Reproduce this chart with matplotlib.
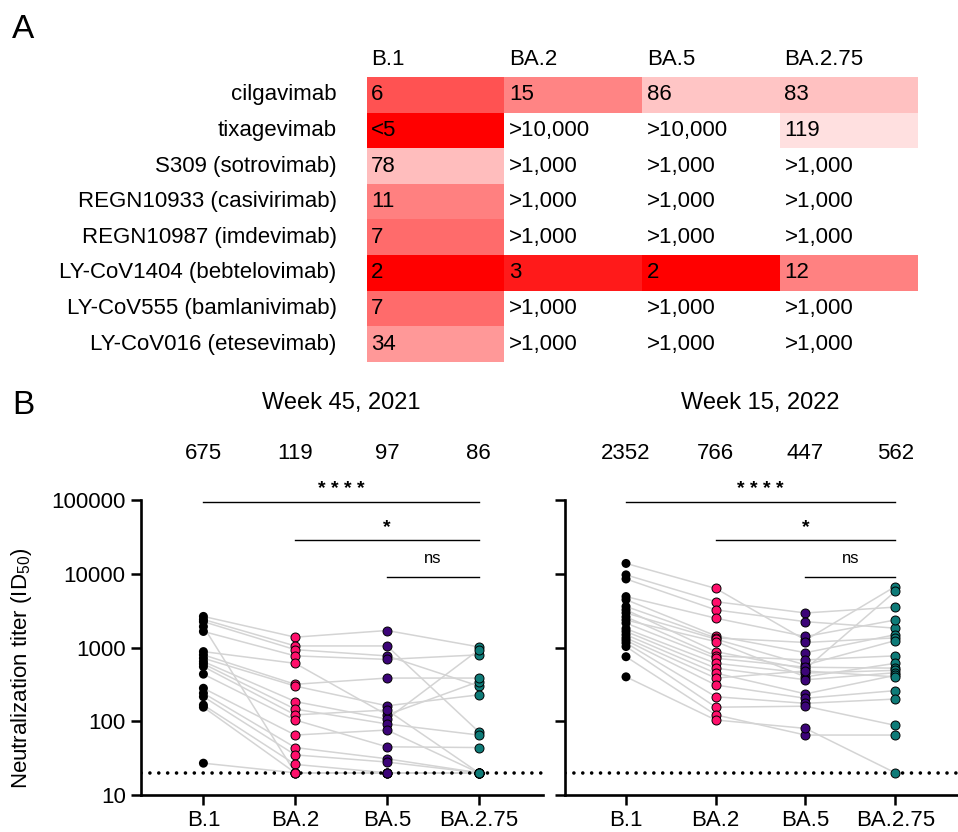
import numpy as np
import matplotlib
matplotlib.use("Agg")
import matplotlib.pyplot as plt
from matplotlib.colors import LinearSegmentedColormap, LogNorm

plt.rcParams['font.family'] = ['Liberation Sans', 'DejaVu Sans']
plt.rcParams['mathtext.fontset'] = 'custom'
plt.rcParams['mathtext.rm'] = 'Liberation Sans'
plt.rcParams['mathtext.it'] = 'Liberation Sans:italic'

# ---- Panel A: mAb IC50 table ----
variants = ["B.1", "BA.2", "BA.5", "BA.2.75"]
antibodies = ["cilgavimab", "tixagevimab", "S309 (sotrovimab)",
              "REGN10933 (casivirimab)", "REGN10987 (imdevimab)",
              "LY-CoV1404 (bebtelovimab)", "LY-CoV555 (bamlanivimab)",
              "LY-CoV016 (etesevimab)"]
ic50_text = [
    ["6", "15", "86", "83"],
    ["<5", ">10,000", ">10,000", "119"],
    ["78", ">1,000", ">1,000", ">1,000"],
    ["11", ">1,000", ">1,000", ">1,000"],
    ["7", ">1,000", ">1,000", ">1,000"],
    ["2", "3", "2", "12"],
    ["7", ">1,000", ">1,000", ">1,000"],
    ["34", ">1,000", ">1,000", ">1,000"],
]
nan = np.nan
# numeric values for colouring ("<5" shown at the floor, ">x" left blank)
ic50_num = [
    [6, 15, 86, 83],
    [2, nan, nan, 119],
    [78, nan, nan, nan],
    [11, nan, nan, nan],
    [7, nan, nan, nan],
    [2, 3, 2, 12],
    [7, nan, nan, nan],
    [34, nan, nan, nan],
]

# ---- Panel B: neutralization titers (one row per donor: B.1, BA.2, BA.5, BA.2.75) ----
titers_2021 = [
    [2640, 1380, 1700, 1020],
    [2400, 1050, 1050, 72],
    [2240, 935, 770, 300],
    [1920, 20, 20, 20],
    [1650, 770, 690, 795],
    [880, 610, 122, 345],
    [795, 317, 385, 385],
    [715, 300, 162, 228],
    [645, 185, 107, 930],
    [600, 146, 92, 65],
    [550, 122, 142, 20],
    [435, 104, 45, 44],
    [280, 65, 76, 20],
    [240, 44, 31, 20],
    [215, 35, 28, 20],
    [166, 26, 20, 20],
    [155, 20, 20, 20],
    [27, 20, 20, 20],
]
titers_2022 = [
    [13800, 6330, 1260, 6700],
    [9660, 4180, 2940, 3530],
    [8500, 3240, 2240, 1830],
    [4900, 2500, 1410, 2360],
    [4450, 1440, 850, 1490],
    [3600, 1350, 1170, 1350],
    [3240, 880, 510, 5750],
    [2940, 1300, 580, 1240],
    [2600, 770, 680, 770],
    [2360, 1200, 400, 610],
    [2140, 715, 540, 525],
    [1800, 610, 450, 490],
    [1650, 525, 365, 455],
    [1490, 450, 235, 420],
    [1350, 385, 480, 400],
    [1250, 310, 205, 260],
    [1150, 215, 175, 200],
    [1030, 155, 160, 88],
    [750, 122, 65, 65],
    [400, 104, 80, 20],
]
gmt_2021 = ["675", "119", "97", "86"]
gmt_2022 = ["2352", "766", "447", "562"]
titles = ["Week 45, 2021", "Week 15, 2022"]
lod = 20
# comparisons: (from, to, label, y)
comparisons = [(0, 3, "* * * *", 95000), (1, 3, "*", 29000), (2, 3, "ns", 9100)]
point_colors = ["#000000", "#FF0F6B", "#3C0478", "#0E7B78"]

W, H = 958, 832
fig = plt.figure(figsize=(W / 100, H / 100), dpi=100)


def px_axes(x0, y0, x1, y1):
    return fig.add_axes([x0 / W, 1 - y1 / H, (x1 - x0) / W, (y1 - y0) / H])


# ---------- A ----------
axa = px_axes(367, 77, 918, 362)
anchors = [(0.0, 0), (0.094, 26), (0.254, 82), (0.29, 107), (0.395, 128),
           (0.467, 133), (0.656, 153), (0.85, 189), (0.946, 224), (1.0, 236)]
cmap = LinearSegmentedColormap.from_list(
    "reds", [(p, (1, g / 255, g / 255)) for p, g in anchors])
cmap.set_bad("white")
arr = np.ma.masked_invalid(np.array(ic50_num, dtype=float))
axa.imshow(arr, cmap=cmap, norm=LogNorm(vmin=2, vmax=150), aspect="auto",
           interpolation="nearest")
axa.set_xlim(-0.5, 3.5)
axa.set_ylim(7.5, -0.5)
axa.axis("off")
for i, ab in enumerate(antibodies):
    axa.text(-0.72, i, ab, ha="right", va="center", fontsize=16)
    for j in range(len(variants)):
        axa.text(j - 0.47, i, ic50_text[i][j], ha="left", va="center", fontsize=16)
for j, v in enumerate(variants):
    axa.text(j - 0.47, -0.98, v, ha="left", va="center", fontsize=16)

fig.text(12 / W, 1 - 30 / H, "A", fontsize=24, ha="left", va="center")
fig.text(12 / W, 1 - 405 / H, "B", fontsize=24, ha="left", va="center")

# ---------- B ----------
boxes = [(141, 500, 543, 795), (565, 500, 958, 795)]
datasets = [titers_2021, titers_2022]
gmts = [gmt_2021, gmt_2022]
xs = np.arange(len(variants))
for k in range(2):
    ax = px_axes(*boxes[k])
    data = np.array(datasets[k], dtype=float)
    for row in data:
        ax.plot(xs, row, color="#D4D4D4", lw=1.1, zorder=1)
    for j in range(len(variants)):
        ax.scatter(np.full(len(data), xs[j]), data[:, j], s=42,
                   color=point_colors[j], edgecolors="black" if j else "none",
                   linewidths=0.7, zorder=3)
    ax.axhline(lod, color="black", lw=2.6, linestyle=(0, (0.01, 2.45)),
               dash_capstyle="round", zorder=2)
    ax.set_yscale("log")
    ax.set_ylim(10, 100000)
    ax.set_xlim(-0.68, 3.7)
    ax.set_xticks(xs)
    ax.set_xticklabels(variants, fontsize=16)
    ax.set_yticks([10, 100, 1000, 10000, 100000])
    ax.minorticks_off()
    if k == 0:
        ax.set_yticklabels(["10", "100", "1000", "10000", "100000"], fontsize=16)
    else:
        ax.set_yticklabels([])
    ax.tick_params(axis="both", direction="out", length=7, width=1.8, pad=4)
    for s in ["top", "right"]:
        ax.spines[s].set_visible(False)
    for s in ["left", "bottom"]:
        ax.spines[s].set_linewidth(1.9)
    for a, b, lab, y in comparisons:
        ax.plot([a, b], [y, y], color="black", lw=1.0, clip_on=False)
        if lab == "ns":
            ax.text((a + b) / 2, y * 1.75, lab, ha="center", va="center",
                    fontsize=12)
        else:
            ax.text((a + b) / 2, y * 1.45, lab, ha="center", va="center",
                    fontsize=14, fontweight="bold")
    for j in range(len(variants)):
        ax.text(xs[j], 1.159, gmts[k][j], transform=ax.get_xaxis_transform(),
                ha="center", va="center", fontsize=16)
    ax.text(1.5, 1.329, titles[k], transform=ax.get_xaxis_transform(),
            ha="center", va="center", fontsize=17)

fig.text(22 / W, 1 - 668 / H, "Neutralization titer (ID$_{50}$)", rotation=90,
         ha="center", va="center", fontsize=16)

fig.savefig("out.png", dpi=100)
